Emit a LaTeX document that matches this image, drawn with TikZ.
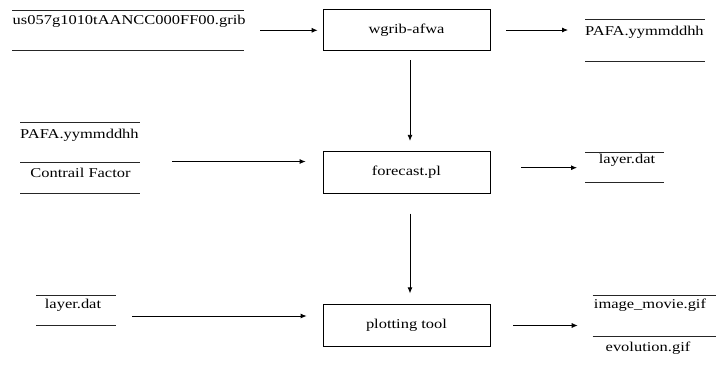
\documentclass[tikz,border=0pt]{standalone}
\usepackage{fontspec}
\setmainfont{Liberation Serif}[FakeStretch=1.22]
\usetikzlibrary{arrows.meta}
\begin{document}
\begin{tikzpicture}[x=1pt,y=-1pt,
  txt/.style={font=\fontsize{13.5}{16}\selectfont, inner sep=0pt},
  proc/.style={draw, line width=0.8pt, minimum width=167pt, minimum height=41.5pt, inner sep=0pt, font=\fontsize{13.5}{16}\selectfont},
  store/.style={inner sep=0pt, outer sep=0pt},
  sline/.style={line width=0.8pt, draw=black!85},
  arr/.style={line width=0.8pt, -{Latex[length=6pt,width=5pt]}}]
\useasboundingbox (0,0) rectangle (716,365);
% process boxes
\node[proc] (b1) at (406.5,30) {wgrib-afwa};
\node[proc] (b2) at (406.5,172.5) {forecast.pl};
\node[proc] (b3) at (406.5,325.5) {plotting tool};
% data stores (invisible frames)
\node[store, minimum width=232pt, minimum height=40.7pt] (sA) at (128,30.3) {};
\node[store, minimum width=120pt, minimum height=42pt] (sB) at (645,40) {};
\node[store, minimum width=120pt, minimum height=71pt] (sC) at (80,157.5) {};
\node[store, minimum width=79pt, minimum height=30pt] (sD) at (624.5,167.7) {};
\node[store, minimum width=80pt, minimum height=30pt] (sE) at (76,310) {};
\node[store, minimum width=123.3pt, minimum height=41pt] (sF) at (654.35,315.5) {};
% store lines
\draw[sline] (sA.north west) -- (sA.north east) (sA.south west) -- (sA.south east);
\draw[sline] (sB.north west) -- (sB.north east) (sB.south west) -- (sB.south east);
\draw[sline] (sC.north west) -- (sC.north east) (sC.south west) -- (sC.south east);
\draw[sline] ([yshift=-4.5pt]sC.west) -- ([yshift=-4.5pt]sC.east);
\draw[sline] (sD.north west) -- (sD.north east) (sD.south west) -- (sD.south east);
\draw[sline] (sE.north west) -- (sE.north east) (sE.south west) -- (sE.south east);
\draw[sline] (sF.north west) -- (sF.north east) (sF.south west) -- (sF.south east);
% store texts
\node[txt, anchor=west] (tA) at (12.5,21) {us057g1010tAANCC000FF00.grib};
\node[txt, anchor=west] (tB) at (585,32) {PAFA.yymmddhh};
\node[txt, anchor=west] (tC1) at (20,135) {PAFA.yymmddhh};
\node[txt] (tC2) at (80.5,173) {Contrail Factor};
\node[txt] (tD) at (627,160) {layer.dat};
\node[txt] (tE) at (73,305) {layer.dat};
\node[txt] (tF1) at (650,305) {image\_movie.gif};
\node[txt] (tF2) at (648,348) {evolution.gif};
% connectors
\draw[arr, shorten <=16pt, shorten >=5pt] (sA.east) -- (sA.east -| b1.west);
\draw[arr, shorten <=16pt, shorten >=17pt] (b1.east) -- (b1.east -| sB.west);
\draw[arr, shorten <=9pt, shorten >=10.5pt] ([xshift=3.5pt]b1.south) -- ([xshift=3.5pt]b2.north);
\draw[arr, shorten <=32pt, shorten >=17pt] ([yshift=-4pt]sC.east) -- ([yshift=-4pt]sC.east -| b2.west);
\draw[arr, shorten <=31pt, shorten >=8pt] (b2.east |- sD.west) -- (sD.west);
\draw[arr, shorten <=20pt, shorten >=11pt] ([xshift=3.5pt]b2.south) -- ([xshift=3.5pt]b3.north);
\draw[arr, shorten <=16pt, shorten >=16pt] ([yshift=-6pt]sE.east) -- ([yshift=-6pt]sE.east -| b3.west);
\draw[arr, shorten <=23pt, shorten >=15pt] (b3.east) -- (b3.east -| sF.west);
\end{tikzpicture}
\end{document}
